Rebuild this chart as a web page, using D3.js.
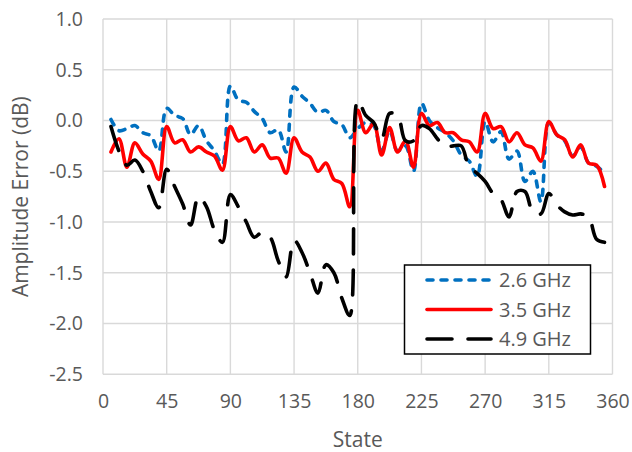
<!DOCTYPE html>
<html>
<head>
<meta charset="utf-8">
<script src="https://cdn.jsdelivr.net/npm/d3@7"></script>
<style>
  html, body { margin: 0; padding: 0; background: #fff; }
  svg { display: block; }
  text { font-family: "Open Sans", "DejaVu Sans", sans-serif; fill: #595959; }
</style>
</head>
<body>
<svg id="chart" width="632" height="452"></svg>
<script>
// Phase states (degrees): 63 steps of 5.625°
const states = d3.range(1, 64).map(k => k * 5.625);

// Measured amplitude error (dB) per state
const err26 = [
  0.01, -0.10, -0.08, -0.05, -0.12, -0.15, -0.30, 0.12, 0.05, 0.02,
  -0.14, -0.05, -0.20, -0.30, -0.43, 0.34, 0.20, 0.18, 0.09, 0.02,
  -0.12, -0.09, -0.31, 0.33, 0.24, 0.17, 0.08, 0.10, -0.01, -0.04,
  -0.17, -0.08, -0.02, -0.05, -0.30, -0.10, -0.30, -0.25, -0.50, 0.17,
  0.00, -0.07, -0.12, -0.20, -0.34, -0.40, -0.55, -0.01, -0.21, -0.11,
  -0.38, -0.30, -0.60, -0.50, -0.80, -0.02, -0.14, -0.20, -0.35, -0.26,
  -0.42, -0.45, -0.52
];
const err35 = [
  -0.31, -0.18, -0.46, -0.22, -0.33, -0.40, -0.58, -0.06, -0.22, -0.19,
  -0.31, -0.26, -0.31, -0.35, -0.49, -0.06, -0.20, -0.17, -0.31, -0.24,
  -0.37, -0.37, -0.52, -0.17, -0.31, -0.36, -0.50, -0.42, -0.58, -0.62,
  -0.85, 0.10, -0.12, -0.03, -0.34, -0.07, -0.31, -0.20, -0.46, 0.07,
  -0.05, -0.02, -0.12, -0.12, -0.19, -0.21, -0.31, 0.07, -0.08, -0.06,
  -0.21, -0.12, -0.24, -0.27, -0.40, -0.01, -0.14, -0.19, -0.36, -0.24,
  -0.42, -0.44, -0.65
];
const err49 = [
  -0.06, -0.30, -0.44, -0.39, -0.50, -0.70, -0.86, -0.48, -0.65, -0.82,
  -1.03, -0.75, -0.85, -1.08, -1.20, -0.73, -0.85, -1.00, -1.15, -1.10,
  -1.15, -1.38, -1.54, -1.18, -1.30, -1.50, -1.70, -1.42, -1.50, -1.75,
  -1.92, 0.20, 0.05, -0.02, -0.18, 0.07, 0.05, -0.20, -0.20, -0.05,
  -0.08, -0.18, -0.26, -0.25, -0.25, -0.46, -0.52, -0.60, -0.72, -0.78,
  -0.95, -0.70, -0.70, -0.90, -0.92, -0.72, -0.83, -0.90, -0.93, -0.92,
  -0.95, -1.17, -1.20
];

const seriesNames = ["2.6 GHz", "3.5 GHz", "4.9 GHz"];
const xTicks = [0, 45, 90, 135, 180, 225, 270, 315, 360];
const yTicks = [-2.5, -2.0, -1.5, -1.0, -0.5, 0.0, 0.5, 1.0];

const series = [
  { name: seriesNames[0], values: err26, color: "#0070C0", dash: "6,8" },
  { name: seriesNames[1], values: err35, color: "#FF0000", dash: null },
  { name: seriesNames[2], values: err49, color: "#000000", dash: "25,16" }
];

const svg = d3.select("#chart");
const plot = { left: 103, right: 612.5, top: 19, bottom: 374.3 };

const x = d3.scaleLinear().domain([0, 360]).range([plot.left, plot.right]);
const y = d3.scaleLinear().domain([-2.5, 1.0]).range([plot.bottom, plot.top]);

// Gridlines
const grid = svg.append("g").attr("stroke", "#d9d9d9").attr("stroke-width", 1.4);
grid.selectAll("line.h").data(yTicks).join("line")
  .attr("x1", plot.left).attr("x2", plot.right)
  .attr("y1", d => y(d)).attr("y2", d => y(d));
grid.selectAll("line.v").data(xTicks).join("line")
  .attr("y1", plot.top).attr("y2", plot.bottom)
  .attr("x1", d => x(d)).attr("x2", d => x(d));

// Axis tick labels
const yAxis = d3.axisLeft(y).tickValues(yTicks).tickSize(0).tickPadding(20)
  .tickFormat(d => d.toFixed(1));
svg.append("g").attr("transform", `translate(${plot.left},0)`).call(yAxis)
  .call(g => g.select(".domain").remove())
  .selectAll("text").style("font-size", "19.5px").attr("fill", "#595959")
  .style("font-family", '"Open Sans", sans-serif');

const xAxis = d3.axisBottom(x).tickValues(xTicks).tickSize(0).tickPadding(20)
  .tickFormat(d3.format("d"));
svg.append("g").attr("transform", `translate(0,${plot.bottom})`).call(xAxis)
  .call(g => g.select(".domain").remove())
  .selectAll("text").style("font-size", "19.5px").attr("fill", "#595959")
  .style("font-family", '"Open Sans", sans-serif');

// Axis titles
svg.append("text")
  .attr("x", (plot.left + plot.right) / 2).attr("y", 447)
  .attr("text-anchor", "middle").style("font-size", "21px")
  .text("State");
svg.append("text")
  .attr("transform", `translate(28,${(plot.top + plot.bottom) / 2}) rotate(-90)`)
  .attr("text-anchor", "middle").style("font-size", "21px")
  .text("Amplitude Error (dB)");

// Smoothed series lines
const line = d3.line()
  .x((d, i) => x(states[i]))
  .y(d => y(d))
  .curve(d3.curveCatmullRom.alpha(0.5));

svg.append("g").selectAll("path").data(series).join("path")
  .attr("d", s => line(s.values))
  .attr("fill", "none")
  .attr("stroke", s => s.color)
  .attr("stroke-width", 3.6)
  .attr("stroke-linecap", "round")
  .attr("stroke-linejoin", "round")
  .attr("stroke-dasharray", s => s.dash);

// Legend
const lg = svg.append("g");
lg.append("rect")
  .attr("x", 404.5).attr("y", 265).attr("width", 186).attr("height", 89)
  .attr("fill", "#fff").attr("stroke", "#000").attr("stroke-width", 1.5);
const rows = lg.selectAll("g.row").data(series).join("g")
  .attr("transform", (d, i) => `translate(0,${280 + i * 29.5})`);
rows.append("line")
  .attr("x1", 427).attr("x2", 491).attr("y1", 0).attr("y2", 0)
  .attr("stroke", d => d.color).attr("stroke-width", 3.6)
  .attr("stroke-linecap", "round")
  .attr("stroke-dasharray", d => d.dash);
rows.append("text")
  .attr("x", 499).attr("y", 0).attr("dy", "0.35em")
  .style("font-size", "20px")
  .text(d => d.name);
</script>
</body>
</html>
